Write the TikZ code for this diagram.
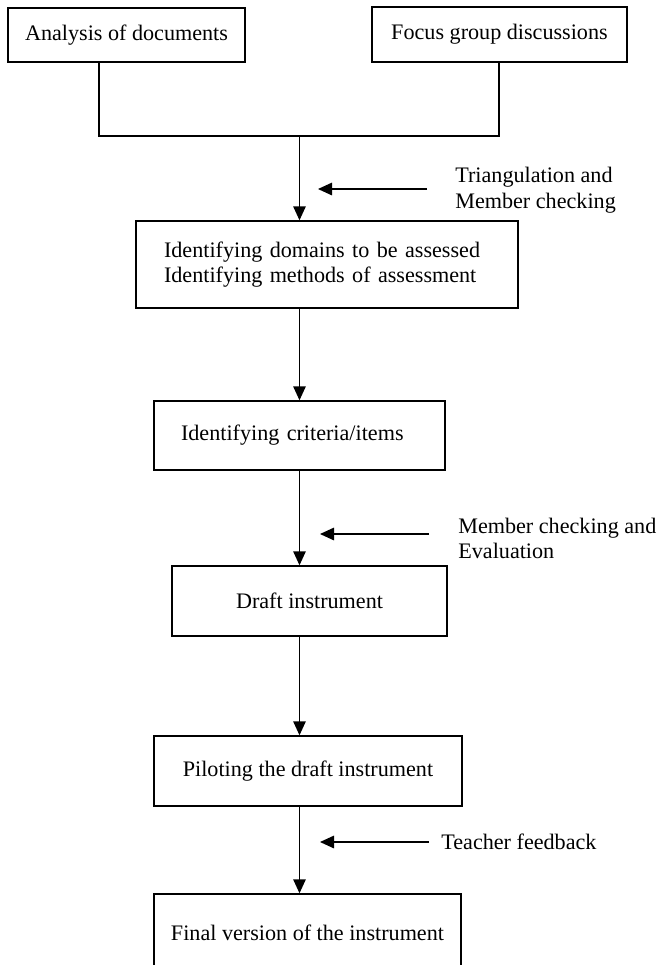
\documentclass[tikz,border=0pt]{standalone}
\usepackage{fontspec}
\setmainfont{Liberation Serif}
\usepackage{tikz}
\usetikzlibrary{arrows.meta,positioning,calc}
\tikzstyle{boite}=[draw, line width=0.85pt, inner sep=0pt, font=\fontsize{12.6}{14.5}\selectfont]
\tikzstyle{fleche}=[line width=0.85pt, -{Triangle[length=0.28cm,width=0.25cm]}]
\tikzstyle{remarque}=[anchor=west, align=left, inner sep=0pt, font=\fontsize{12.6}{14.5}\selectfont]

\begin{document}
\begin{tikzpicture}

\useasboundingbox (0,0) rectangle (13.12,-19.30);

% sources
\node[boite, minimum width=4.74cm, minimum height=1.08cm] (docs) at (2.53,-0.70) {Analysis of documents};
\node[boite, minimum width=5.10cm, minimum height=1.10cm] (focus) at (9.99,-0.69) {Focus group discussions};

\coordinate (jl) at (1.98,-2.72);
\coordinate (jm) at (5.99,-2.72);
\coordinate (jr) at (9.98,-2.72);
\draw[line width=0.85pt] (jl |- docs.south) -- (jl) -- (jr) -- (jr |- focus.south);

% domaines
\node[boite, minimum height=1.74cm, text width=6.52cm, inner xsep=0.56cm, align=left] (domaines) at (6.54,-5.29) {Identifying domains to be assessed\\Identifying methods of assessment};
\draw[fleche] (jm) -- (jm |- domaines.north);

\coordinate (s1) at (8.54,-3.78); \coordinate (p1) at (6.36,-3.78);
\draw[fleche] (s1) -- (p1);
\node[remarque] (tri) at (9.10,-3.80) {Triangulation and\\Member checking};

% criteres
\node[boite, minimum height=1.38cm, text width=4.74cm, inner xsep=0.54cm, align=left] (criteres) at (5.99,-8.71) {Identifying criteria/items};
\draw[fleche] (jm |- domaines.south) -- (jm |- criteres.north);

% brouillon
\node[boite, minimum width=5.50cm, minimum height=1.40cm] (brouillon) at (6.19,-12.02) {Draft instrument};
\draw[fleche] (jm |- criteres.south) -- (jm |- brouillon.north);

\coordinate (s2) at (8.58,-10.68); \coordinate (p2) at (6.40,-10.68);
\draw[fleche] (s2) -- (p2);
\node[remarque] (eval) at (9.16,-10.77) {Member checking and\\Evaluation};

% pilote
\node[boite, minimum width=6.16cm, minimum height=1.40cm] (pilote) at (6.16,-15.42) {Piloting the draft instrument};
\draw[fleche] (jm |- brouillon.south) -- (jm |- pilote.north);

% final
\node[boite, minimum width=6.14cm, minimum height=1.56cm] (final) at (6.15,-18.66) {Final version of the instrument};
\draw[fleche] (jm |- pilote.south) -- (jm |- final.north);

\coordinate (s3) at (8.58,-16.84); \coordinate (p3) at (6.40,-16.84);
\draw[fleche] (s3) -- (p3);
\node[remarque] (prof) at (8.82,-16.84) {Teacher feedback};

\end{tikzpicture}
\end{document}
